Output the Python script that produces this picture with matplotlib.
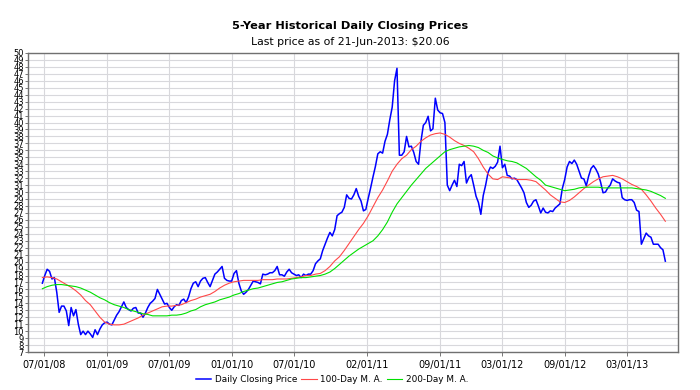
import matplotlib
matplotlib.use('Agg')
import matplotlib.pyplot as plt
import pandas as pd

# weekly closes (Fridays)
close = [16.9, 18.0, 18.9, 18.6, 17.5, 17.7, 15.6, 12.7, 13.6, 13.6,
         12.9, 10.8, 13.4, 12.2, 13.1, 11.0, 9.5, 10.0, 9.5, 10.0,
         9.6, 9.1, 10.2, 9.5, 10.3, 10.9, 11.2, 11.3, 11.0, 10.9,
         11.6, 12.3, 12.8, 13.5, 14.2, 13.4, 13.1, 12.9, 13.3, 13.4,
         12.6, 12.6, 12.0, 12.6, 13.4, 14.0, 14.3, 14.7, 16.0, 15.3,
         14.6, 13.9, 14.0, 13.4, 13.0, 13.5, 13.8, 13.7, 14.4, 14.6,
         14.1, 14.9, 16.1, 16.9, 17.1, 16.4, 17.2, 17.6, 17.7, 17.0,
         16.4, 17.3, 18.2, 18.5, 18.9, 19.3, 17.6, 17.3, 17.2, 17.2,
         18.3, 18.7, 16.9, 15.8, 15.3, 15.6, 16.0, 16.6, 17.2, 17.1,
         17.0, 16.8, 18.2, 18.1, 18.2, 18.4, 18.4, 18.7, 19.3, 18.1,
         18.1, 17.9, 18.5, 18.9, 18.4, 18.2, 18.0, 18.1, 17.7, 18.2,
         18.0, 18.2, 18.2, 18.7, 19.7, 20.1, 20.4, 21.6, 22.5, 23.4,
         24.2, 23.7, 24.6, 26.6, 26.9, 27.1, 27.8, 29.6, 29.1, 29.0,
         29.6, 30.5, 29.4, 28.7, 27.3, 27.5, 29.1, 30.6, 32.2, 33.7,
         35.5, 35.8, 35.6, 37.3, 38.3, 40.4, 42.2, 46.0, 47.8, 35.3,
         35.3, 35.8, 38.0, 36.5, 36.6, 35.7, 34.4, 34.0, 37.3, 39.6,
         40.0, 40.9, 38.8, 39.1, 43.5, 41.8, 41.4, 41.3, 40.0, 31.0,
         30.2, 31.0, 31.7, 30.8, 34.0, 33.8, 34.4, 31.3, 32.1, 32.5,
         31.0, 29.4, 28.5, 26.8, 29.5, 31.0, 32.8, 33.6, 33.4, 33.7,
         34.3, 36.6, 33.5, 34.0, 32.4, 32.3, 31.9, 32.0, 31.8, 31.2,
         30.6, 29.9, 28.5, 27.8, 28.1, 28.7, 28.9, 28.0, 27.0, 27.7,
         27.1, 27.0, 27.3, 27.2, 27.7, 28.0, 28.3, 30.5, 31.8, 33.6,
         34.4, 34.1, 34.6, 34.0, 33.0, 32.0, 31.9, 30.9, 32.3, 33.4,
         33.8, 33.3, 32.6, 31.4, 29.9, 30.0, 30.6, 31.0, 31.9, 31.6,
         31.4, 31.3, 29.2, 28.9, 28.8, 28.9, 28.9, 28.5, 27.4, 27.2,
         22.5, 23.3, 24.1, 23.7, 23.5, 22.5, 22.5, 22.5, 22.0, 21.7,
         20.06]

# moving averages, every second Friday
ma100 = [17.7, 17.8, 17.7, 17.5, 17.1, 16.7, 16.3, 15.8, 15.2, 14.4,
         13.8, 12.9, 12.0, 11.3, 11.0, 10.9, 10.9, 11.0, 11.3, 11.6,
         11.9, 12.3, 12.6, 12.9, 13.2, 13.5, 13.6, 13.6, 13.7, 13.8,
         14.1, 14.4, 14.6, 14.9, 15.1, 15.3, 15.7, 16.2, 16.6, 16.9,
         17.1, 17.2, 17.3, 17.3, 17.3, 17.3, 17.4, 17.4, 17.4, 17.5,
         17.5, 17.5, 17.6, 17.7, 17.8, 18.0, 18.0, 18.2, 18.3, 18.7,
         19.3, 20.1, 20.7, 21.6, 22.6, 23.6, 24.6, 25.5, 26.6, 27.9,
         29.2, 30.3, 31.6, 33.0, 34.0, 34.8, 35.3, 36.1, 36.6, 37.3,
         37.8, 38.2, 38.4, 38.5, 38.3, 37.9, 37.4, 37.0, 36.7, 36.3,
         35.8, 34.8, 33.6, 32.6, 31.9, 31.8, 32.2, 32.1, 32.0, 31.8,
         31.8, 31.8, 31.7, 31.5, 30.9, 30.3, 29.6, 29.1, 28.6, 28.5,
         28.8, 29.3, 29.9, 30.5, 31.0, 31.5, 31.9, 32.2, 32.3, 32.4,
         32.2, 31.9, 31.5, 31.1, 30.8, 30.4, 29.6, 28.7, 27.7, 26.8,
         25.8]
ma200 = [16.1, 16.4, 16.6, 16.7, 16.7, 16.6, 16.5, 16.4, 16.2, 15.9,
         15.6, 15.2, 14.8, 14.5, 14.1, 13.8, 13.6, 13.4, 13.1, 12.9,
         12.7, 12.5, 12.4, 12.2, 12.2, 12.2, 12.2, 12.3, 12.3, 12.4,
         12.6, 12.9, 13.1, 13.5, 13.8, 14.0, 14.2, 14.5, 14.7, 14.9,
         15.2, 15.4, 15.7, 15.9, 16.1, 16.2, 16.4, 16.6, 16.8, 17.0,
         17.1, 17.3, 17.5, 17.6, 17.7, 17.7, 17.8, 17.9, 18.0, 18.2,
         18.5, 19.0, 19.6, 20.2, 20.8, 21.3, 21.8, 22.2, 22.6, 23.0,
         23.7, 24.6, 25.7, 27.1, 28.3, 29.2, 30.1, 31.0, 31.8, 32.6,
         33.4, 34.0, 34.6, 35.2, 35.8, 36.1, 36.3, 36.5, 36.6, 36.7,
         36.6, 36.4, 36.0, 35.7, 35.2, 34.9, 34.7, 34.5, 34.4, 34.2,
         33.8, 33.4, 32.8, 32.2, 31.7, 31.0, 30.8, 30.6, 30.4, 30.2,
         30.3, 30.4, 30.6, 30.7, 30.7, 30.7, 30.7, 30.6, 30.6, 30.6,
         30.6, 30.6, 30.6, 30.6, 30.5, 30.4, 30.3, 30.1, 29.8, 29.5,
         29.1]

dates = pd.date_range('2008-06-27', periods=len(close), freq='W-FRI')
ma_dates = dates[::2]

tick_dates = ['2008-07-01', '2009-01-01', '2009-07-01', '2010-01-01', '2010-07-01',
              '2011-02-01', '2011-09-01', '2012-03-01', '2012-09-01', '2013-03-01']
tick_labels = ['07/01/08', '01/01/09', '07/01/09', '01/01/10', '07/01/10',
               '02/01/11', '09/01/11', '03/01/12', '09/01/12', '03/01/13']

fig = plt.figure(figsize=(7, 3.9), dpi=100)
ax = fig.add_axes([28/700, 1 - 352/390, 650/700, 299/390])

ax.plot(dates, close, color='#0000ff', lw=1.1, label='Daily Closing Price', zorder=3)
ax.plot(ma_dates, ma100, color='#ff4848', lw=0.8, label='100-Day M. A.', zorder=4)
ax.plot(ma_dates, ma200, color='#00e000', lw=0.8, label='200-Day M. A.', zorder=4)

ax.set_xlim(pd.Timestamp('2008-05-16'), pd.Timestamp('2013-07-28'))
ax.set_ylim(7, 50)
ax.set_yticks(range(7, 51))
ax.set_xticks(pd.to_datetime(tick_dates))
ax.set_xticklabels(tick_labels)
ax.tick_params(axis='y', labelsize=6, length=2, pad=1, width=0.6, color='#606060')
ax.tick_params(axis='x', labelsize=7, length=3, pad=3, width=0.6, color='#606060')
ax.grid(True, color='#d8d8dc', lw=0.8, zorder=0)
for s in ax.spines.values():
    s.set_color('#707070')
    s.set_linewidth(1)

fig.text(0.5, 1 - 26/390, '5-Year Historical Daily Closing Prices',
         ha='center', va='center', fontsize=8.2, fontweight='bold')
fig.text(0.5, 1 - 42/390, 'Last price as of 21-Jun-2013: $20.06',
         ha='center', va='center', fontsize=7.8)

fig.legend(loc='center', bbox_to_anchor=(332/700, 1 - 380/390), ncol=3,
           frameon=False, fontsize=6.4, handlelength=1.7, handletextpad=0.4,
           columnspacing=0.5)

fig.savefig('out.png', dpi=100)
